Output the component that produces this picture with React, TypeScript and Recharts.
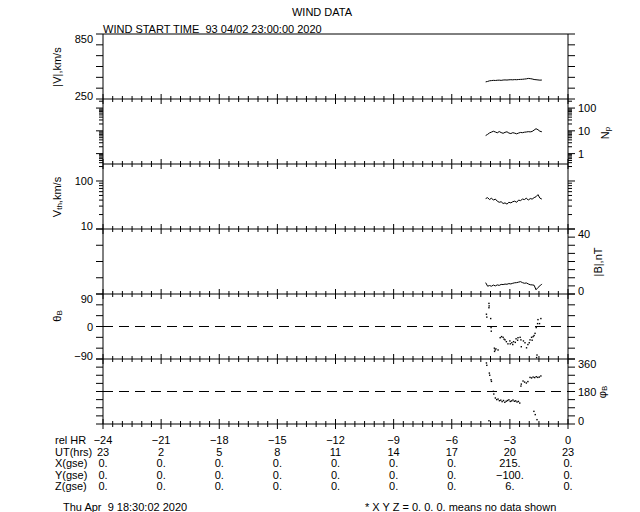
import * as React from "react";
import {
  ComposedChart,
  Line,
  ReferenceLine,
  Scatter,
  XAxis,
  YAxis
} from "recharts";

const FONT = "'Liberation Sans', Arial, sans-serif";
const INK = "#000";

const PLOT_LEFT = 103;
const PLOT_RIGHT = 568;
const PANEL_H = 65;
const TOP0 = 34;
const AXW = 40;

// plasma time stamps (hours relative to end)
const plasmaHours = [
  -4.25, -4.15, -4.05, -3.95, -3.85, -3.75, -3.65, -3.55, -3.45, -3.35,
  -3.25, -3.15, -3.05, -2.95, -2.85, -2.75, -2.65, -2.55, -2.45, -2.35,
  -2.25, -2.15, -2.05, -1.95, -1.85, -1.75, -1.65, -1.55, -1.45, -1.35
];
const speed = [
  408, 412, 418, 420, 422, 421, 423, 424, 422, 425, 426, 425, 427, 428, 427,
  429, 428, 430, 431, 432, 434, 436, 440, 438, 435, 430, 428, 426, 424, 425
];
const density = [
  6.2, 7.0, 8.1, 8.8, 9.6, 8.9, 8.2, 9.3, 8.4, 7.8, 8.6, 9.1, 8.0, 7.6, 8.3,
  7.9, 7.4, 8.0, 8.5, 8.3, 8.7, 8.9, 9.2, 9.0, 9.4, 10.8, 12.4, 11.2, 9.6, 9.1
];
const vth = [
  43, 45, 41, 44, 40, 42, 38, 36, 37, 34, 35, 33, 36, 35, 37, 38, 36, 40, 39,
  42, 41, 44, 40, 43, 42, 45, 47, 52, 44, 42
];
const bmag = [
  7.0, 4.8, 5.2, 4.8, 5.5, 5.0, 5.6, 5.3, 5.9, 5.8, 6.1, 6.0, 6.4, 6.2, 6.6,
  6.9, 7.0, 7.3, 7.6, 7.0, 6.6, 6.8, 6.2, 5.7, 5.6, 5.4, 2.6, 4.0, 5.0, 6.2
];

const thetaHours = [
  -4.21, -4.19, -4.08, -4.07, -4.08, -3.99, -3.97, -3.96, -3.8, -3.79, -3.76,
  -3.72, -3.61, -3.5, -3.43, -3.35, -3.3, -3.25, -3.18, -3.1, -3.0, -2.98,
  -2.9, -2.85, -2.81, -2.72, -2.68, -2.6, -2.58, -2.47, -2.43, -2.41, -2.3,
  -2.22, -2.14, -2.07, -2.0, -1.96, -1.88, -1.85, -1.8, -1.75, -1.7, -1.64,
  -1.57, -1.55, -1.47, -1.4, -1.6, -1.62
];
const thetaVals = [
  34, 26, 64, 57, 52, 22, -3, -13, -60, -69, -65, -62, -65, -31, -28, -30,
  -35, -37, -42, -48, -40, -48, -45, -50, -42, -44, -34, -38, -31, -30, -37,
  -56, -40, -45, -59, -50, -45, -37, -30, -38, -28, -25, -19, -3, 8, 19, 8, 22,
  -79, -86
];

const phiHours = [
  -4.21, -4.19, -4.06, -4.04, -3.97, -3.95, -3.85, -3.83, -3.75, -3.68, -3.61,
  -3.54, -3.47, -3.4, -3.33, -3.26, -3.19, -3.12, -3.05, -2.98, -2.91, -2.84,
  -2.77, -2.7, -2.63, -2.56, -2.49, -2.43, -2.41, -2.32, -2.24, -2.15, -2.07,
  -1.96, -1.88, -1.8, -1.72, -1.64, -1.56, -1.48, -1.4, -1.76, -1.69, -1.6,
  -4.08
];
const phiVals = [
  338, 325, 282, 270, 245, 236, 181, 166, 144, 135, 138, 129, 132, 124, 130,
  120, 126, 130, 134, 125, 128, 133, 126, 128, 122, 125, 116, 210, 221, 238,
  232, 227, 235, 258, 255, 260, 257, 262, 258, 260, 266, 70, 52, 24, 18
];

// table under the plot
const majorHours = [-24, -21, -18, -15, -12, -9, -6, -3, 0];
const relHr = ["−24", "−21", "−18", "−15", "−12", "−9", "−6", "−3", "0"];
const utHrs = ["23", "2", "5", "8", "11", "14", "17", "20", "23"];
const xGse = ["0.", "0.", "0.", "0.", "0.", "0.", "0.", "215.", "0."];
const yGse = ["0.", "0.", "0.", "0.", "0.", "0.", "0.", "−100.", "0."];
const zGse = ["0.", "0.", "0.", "0.", "0.", "0.", "0.", "6.", "0."];
const tableRows = [relHr, utHrs, xGse, yGse, zGse];
const rowNames = ["rel HR", "UT(hrs)", "X(gse)", "Y(gse)", "Z(gse)"];

const X_TICKS = Array.from({ length: 49 }, (_, i) => -24 + i * 0.5);
const LOG_NP = [0.4, 0.5, 0.6, 0.7, 0.8, 0.9, 1, 2, 3, 4, 5, 6, 7, 8, 9, 10, 20, 30, 40, 50, 60, 70, 80, 90, 100, 200];
const LOG_VTH = [10, 20, 30, 40, 50, 60, 70, 80, 90, 100, 200];

const zip = (hs: number[], vs: number[]) => hs.map((h, i) => ({ h, v: vs[i] }));

type Cfg = {
  domain: [number, number];
  log?: boolean;
  kind: "line" | "dots";
  data: { h: number; v: number }[];
  leftTicks: number[];
  rightTicks: number[];
  leftLabels: number[];
  rightLabels: number[];
  dashed?: number;
};

const PANELS: Cfg[] = [
  {
    domain: [250, 850], kind: "line", data: zip(plasmaHours, speed),
    leftTicks: [250, 350, 450, 550, 650, 750, 850], rightTicks: [250, 350, 450, 550, 650, 750, 850],
    leftLabels: [850, 250], rightLabels: []
  },
  {
    domain: [0.35, 250], log: true, kind: "line", data: zip(plasmaHours, density),
    leftTicks: LOG_NP, rightTicks: LOG_NP, leftLabels: [], rightLabels: [100, 10, 1]
  },
  {
    domain: [10, 226], log: true, kind: "line", data: zip(plasmaHours, vth),
    leftTicks: LOG_VTH, rightTicks: LOG_VTH, leftLabels: [100, 10], rightLabels: []
  },
  {
    domain: [0, 40], kind: "line", data: zip(plasmaHours, bmag),
    leftTicks: [0, 10, 20, 30, 40], rightTicks: [0, 5, 10, 15, 20, 25, 30, 35, 40],
    leftLabels: [], rightLabels: [40, 0]
  },
  {
    domain: [-90, 90], kind: "dots", data: zip(thetaHours, thetaVals), dashed: 0,
    leftTicks: [-90, -60, -30, 0, 30, 60, 90], rightTicks: [-90, -60, -30, 0, 30, 60, 90],
    leftLabels: [90, 0, -90], rightLabels: []
  },
  {
    domain: [0, 360], kind: "dots", data: zip(phiHours, phiVals), dashed: 180,
    leftTicks: [0, 45, 90, 135, 180, 225, 270, 315, 360], rightTicks: [0, 45, 90, 135, 180, 225, 270, 315, 360],
    leftLabels: [], rightLabels: [360, 180, 0]
  }
];

const isDecade = (v: number) => Math.abs(Math.log10(v) - Math.round(Math.log10(v))) < 1e-6;
const fmt = (v: number) => String(v).replace("-", "−");

function makeYTick(cfg: Cfg, side: "l" | "r") {
  const labels = side === "l" ? cfg.leftLabels : cfg.rightLabels;
  return (p: any) => {
    const { x, y, payload } = p;
    const v = payload.value as number;
    const len = cfg.log && !isDecade(v) ? 4 : 7;
    const dir = side === "l" ? -1 : 1;
    let ly = y + 4;
    if (v === cfg.domain[1]) ly += 5;
    if (v === cfg.domain[0]) ly -= 3;
    return (
      <g>
        <line x1={x} x2={x + dir * len} y1={y} y2={y} stroke={INK} />
        {labels.includes(v) && (
          <text x={x + dir * 10} y={ly} textAnchor={side === "l" ? "end" : "start"}
            fontFamily={FONT} fontSize={11} fill={INK}>
            {fmt(v)}
          </text>
        )}
      </g>
    );
  };
}

function makeXTick(last: boolean) {
  return (p: any) => {
    const { x, y, payload } = p;
    const v = payload.value as number;
    const major = v % 3 === 0;
    const len = major ? 5 : 3;
    const col = majorHours.indexOf(v);
    return (
      <g>
        <line x1={x} x2={x} y1={y - len} y2={y + len} stroke={INK} />
        {last && col >= 0 &&
          tableRows.map((row, r) => (
            <text key={r} x={x} y={y + 20 + r * 11.5} textAnchor="middle"
              fontFamily={FONT} fontSize={11} fill={INK}>
              {row[col]}
            </text>
          ))}
      </g>
    );
  };
}

const Dot = (p: any) => (
  <rect x={p.cx - 0.7} y={p.cy - 0.7} width={1.4} height={1.4} fill={INK} />
);

function Panel({ cfg, index }: { cfg: Cfg; index: number }) {
  const top = TOP0 + index * PANEL_H;
  const last = index === PANELS.length - 1;
  const bottomSpace = last ? 75 : 10;
  const height = 10 + PANEL_H + bottomSpace;
  const yCommon = {
    yAxisId: undefined as any,
    width: AXW,
    type: "number" as const,
    domain: cfg.domain,
    scale: cfg.log ? ("log" as const) : ("linear" as const),
    allowDataOverflow: true,
    interval: 0 as const,
    tickSize: 0,
    tickMargin: 0,
    tickLine: false,
    axisLine: { stroke: INK }
  };
  return (
    <div style={{ position: "absolute", left: 0, top: top - 10 }}>
      <ComposedChart
        width={640}
        height={height}
        margin={{ top: 10, right: 640 - PLOT_RIGHT - AXW, bottom: 0, left: PLOT_LEFT - AXW }}
      >
        <XAxis
          type="number"
          dataKey="h"
          domain={[-24, 0]}
          ticks={X_TICKS}
          interval={0}
          height={bottomSpace}
          tickSize={0}
          tickMargin={0}
          tickLine={false}
          axisLine={{ stroke: INK }}
          allowDataOverflow
          tick={makeXTick(last)}
        />
        <YAxis {...yCommon} yAxisId="l" orientation="left" ticks={cfg.leftTicks} tick={makeYTick(cfg, "l")} />
        <YAxis {...yCommon} yAxisId="r" orientation="right" ticks={cfg.rightTicks} tick={makeYTick(cfg, "r")} />
        {index === 0 && <ReferenceLine yAxisId="l" y={cfg.domain[1]} stroke={INK} />}
        {cfg.dashed !== undefined && (
          <ReferenceLine yAxisId="l" y={cfg.dashed} stroke={INK} strokeDasharray="10 6" />
        )}
        {cfg.kind === "line" ? (
          <Line yAxisId="l" data={cfg.data} dataKey="v" stroke={INK} strokeWidth={1}
            dot={false} isAnimationActive={false} />
        ) : (
          <Scatter yAxisId="l" data={cfg.data} dataKey="v" shape={Dot} isAnimationActive={false} />
        )}
      </ComposedChart>
    </div>
  );
}

function Rot({ x, y, children }: { x: number; y: number; children: React.ReactNode }) {
  return (
    <text transform={`translate(${x},${y}) rotate(-90)`} textAnchor="middle"
      dominantBaseline="central" fontFamily={FONT} fontSize={11} fill={INK}>
      {children}
    </text>
  );
}

export default function App() {
  return (
    <div style={{ position: "absolute", left: 0, top: 0, width: 640, height: 512, background: "#fff", overflow: "hidden" }}>
      {PANELS.map((cfg, i) => (
        <Panel key={i} cfg={cfg} index={i} />
      ))}
      <svg width={640} height={512} style={{ position: "absolute", left: 0, top: 0, pointerEvents: "none" }}>
        <g fontFamily={FONT} fontSize={11} fill={INK}>
          <text x={322} y={16} textAnchor="middle">WIND DATA</text>
          <text x={103} y={33} style={{ whiteSpace: "pre" }}>WIND START TIME  93 04/02 23:00:00 2020</text>
          {rowNames.map((n, r) => (
            <text key={n} x={55} y={444 + r * 11.5}>{n}</text>
          ))}
          <text x={63} y={511} style={{ whiteSpace: "pre" }}>Thu Apr  9 18:30:02 2020</text>
          <text x={365} y={511}>* X Y Z = 0. 0. 0. means no data shown</text>
        </g>
        <Rot x={57} y={67}>|V|,km/s</Rot>
        <Rot x={57} y={197}>
          V<tspan fontSize={8} dy={2}>th</tspan><tspan dy={-2}>,km/s</tspan>
        </Rot>
        <Rot x={57} y={316}>
          θ<tspan fontSize={8} dy={2}>B</tspan>
        </Rot>
        <Rot x={605} y={133}>
          N<tspan fontSize={8} dy={2}>p</tspan>
        </Rot>
        <Rot x={598} y={262}>|B|,nT</Rot>
        <Rot x={602} y={392}>
          φ<tspan fontSize={8} dy={2}>B</tspan>
        </Rot>
      </svg>
    </div>
  );
}
